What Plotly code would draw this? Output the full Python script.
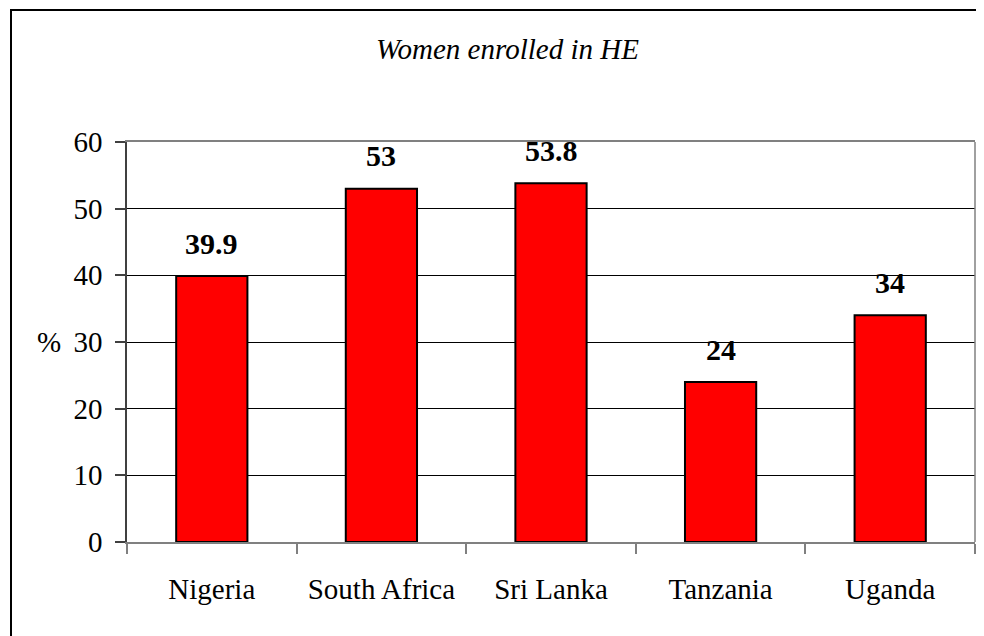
import plotly.graph_objects as go

countries = ["Nigeria", "South Africa", "Sri Lanka", "Tanzania", "Uganda"]
women_pct = [39.9, 53, 53.8, 24, 34]
y_ticks = [0, 10, 20, 30, 40, 50, 60]
title_text = "Women enrolled in HE"
y_label = "%"

# The page body has an 8px margin, so the figure is drawn from (8, 8) on screen.
OFF = 8
W, H = 984 - OFF, 636 - OFF
L, R, T, B = 127 - OFF, 975 - OFF, 142 - OFF, 542 - OFF
pw, ph = R - L, B - T

def px(x):
    return (x - OFF - L) / pw

def py(y):
    return (B - (y - OFF)) / ph

FONT = "Liberation Serif, Times New Roman, serif"

fig = go.Figure()
fig.add_trace(go.Bar(
    x=countries, y=women_pct, width=0.42,
    marker=dict(color="#FF0000", line=dict(color="#000000", width=2)),
    hoverinfo="x+y",
))

annotations = []
for c, v in zip(countries, women_pct):
    annotations.append(dict(
        x=c, y=v, xref="x", yref="y", text=f"<b>{v:g}</b>", showarrow=False,
        yanchor="middle", yshift=33,
        font=dict(family=FONT, size=30, color="#000000"),
    ))
annotations.append(dict(
    x=px(507), y=py(49), xref="paper", yref="paper", text=f"<i>{title_text}</i>",
    showarrow=False, xanchor="center", yanchor="middle",
    font=dict(family=FONT, size=29, color="#000000"),
))
annotations.append(dict(
    x=px(63), y=30, xref="paper", yref="y", text=y_label, showarrow=False,
    xanchor="right", yanchor="middle",
    font=dict(family=FONT, size=29, color="#000000"),
))

fig.update_layout(
    width=W, height=H,
    margin=dict(l=L, r=W - R, t=T, b=H - B, pad=0),
    paper_bgcolor="#FFFFFF", plot_bgcolor="#FFFFFF",
    showlegend=False,
    annotations=annotations,
    font=dict(family=FONT, size=29, color="#000000"),
    shapes=[
        dict(type="rect", xref="paper", yref="paper",
             x0=px(11), x1=px(1000), y0=py(660), y1=py(10),
             line=dict(color="#000000", width=2), fillcolor="rgba(0,0,0,0)", layer="above"),
        dict(type="line", xref="paper", yref="paper",
             x0=1, x1=1, y0=0, y1=1, line=dict(color="#808080", width=1.5), layer="above"),
    ],
)
fig.update_xaxes(
    range=[-0.5, 4.5], showgrid=False, zeroline=False,
    showline=True, linecolor="#808080", linewidth=1.5, mirror=True,
    ticks="outside", tickson="boundaries", ticklen=10, tickcolor="#808080", tickwidth=1.5,
    ticklabelstandoff=20,
    tickfont=dict(family=FONT, size=29, color="#000000"),
)
fig.update_yaxes(
    range=[0, 60], tickvals=y_ticks, showgrid=True, gridcolor="#000000", gridwidth=1,
    zeroline=False, showline=True, linecolor="#404040", linewidth=1.5,
    ticks="outside", ticklen=10, tickcolor="#404040", tickwidth=1.5,
    ticklabelstandoff=7,
    tickfont=dict(family=FONT, size=29, color="#000000"),
)

fig.write_html("out.html")
